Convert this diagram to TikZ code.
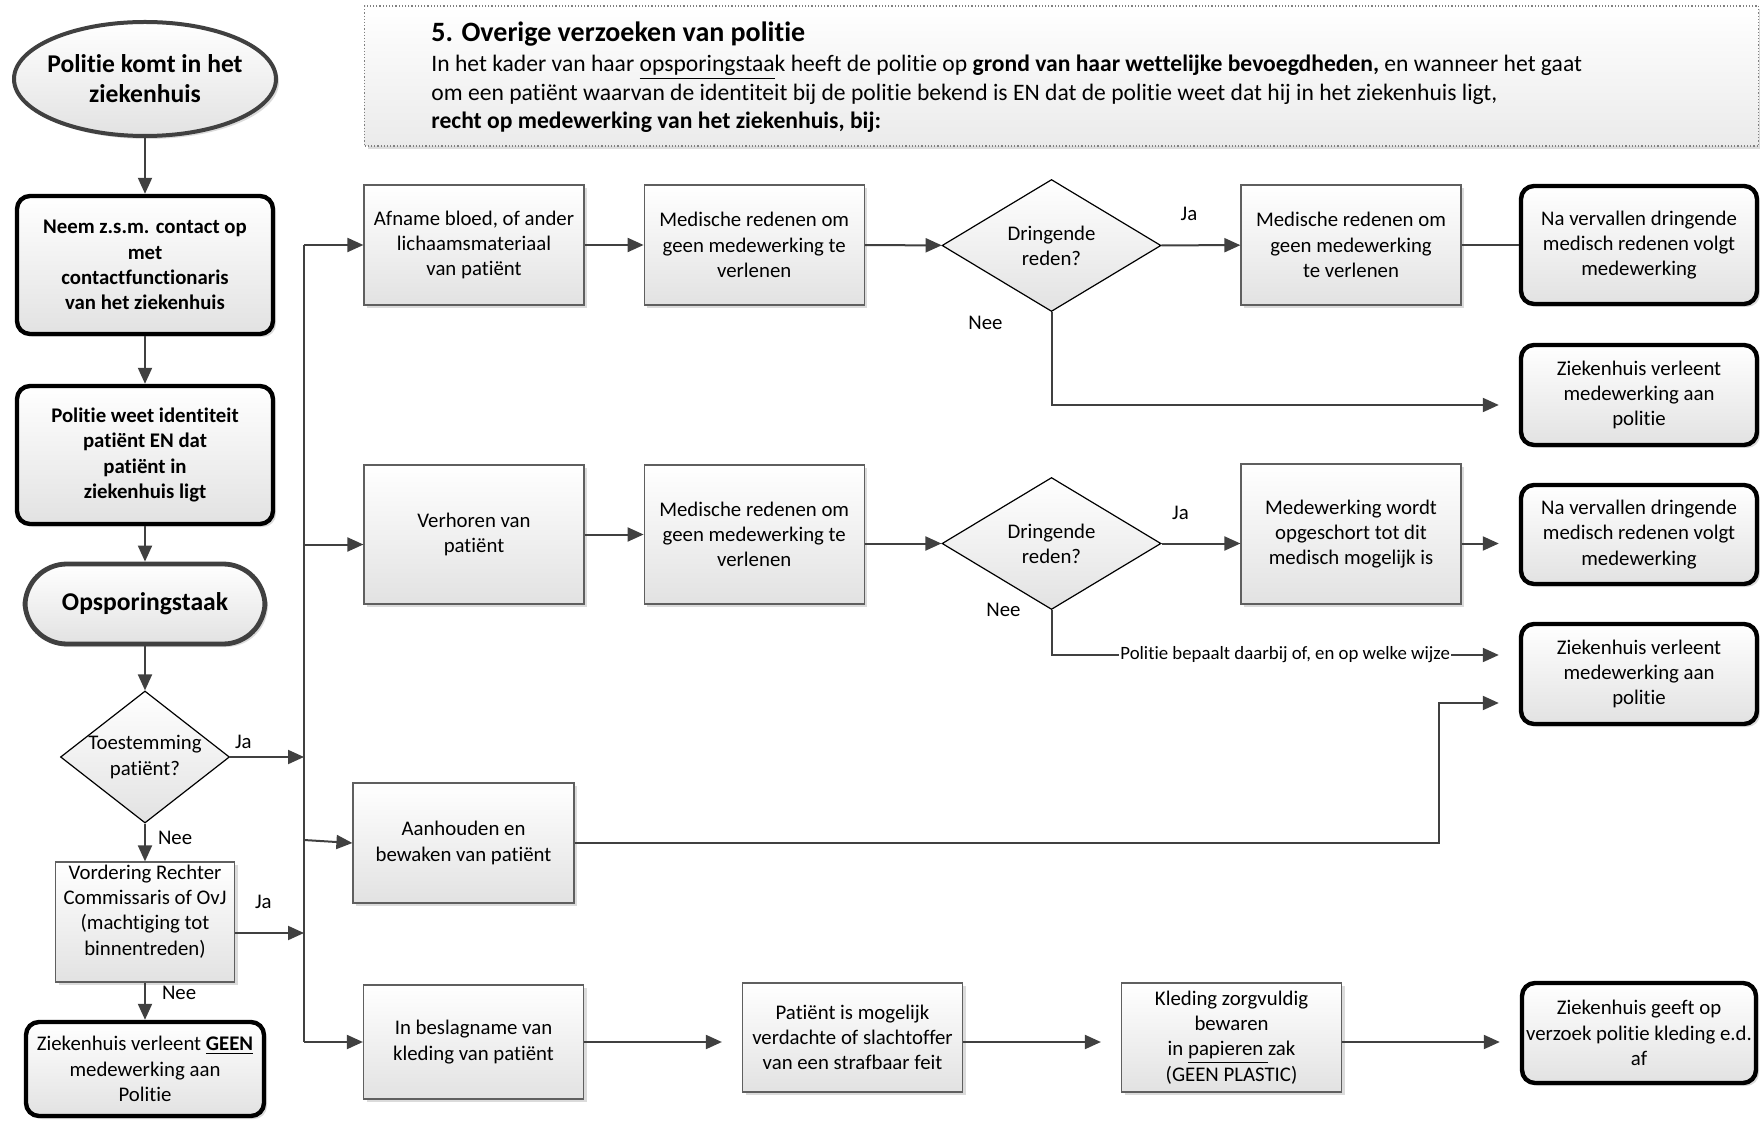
\documentclass[tikz,border=0pt]{standalone}
\usepackage{fontspec}
\setmainfont{Carlito}[Ligatures=NoCommon]
\usetikzlibrary{positioning, calc, shapes.geometric, arrows.meta, shadows}

\definecolor{linegray}{RGB}{64,64,64}
\definecolor{framegray}{RGB}{95,95,95}
\definecolor{boxgray}{RGB}{226,226,226}

\begin{document}
\begin{tikzpicture}[
        x=0.5pt, y=-0.5pt,
        node distance = 29.5pt and 29.5pt,
        txt/.style = {font=\fontsize{10.4}{12.6}\selectfont},
        shadowed/.style = {drop shadow={shadow xshift=1.5pt, shadow yshift=-1.5pt,
                    fill=black!40, opacity=0.35}},
        box/.style = {rectangle, draw=framegray, line width=0.6pt,
                    top color=white, bottom color=boxgray, shadowed,
                    align=center, inner sep=2pt, txt,
                    minimum width=110pt, minimum height=#1},
        box/.default = 60pt,
        endbox/.style = {rectangle, rounded corners=6.5pt, draw=black, line width=2.2pt,
                    top color=white, bottom color=boxgray, shadowed,
                    align=center, inner sep=1.5pt, txt,
                    minimum width=118pt, minimum height=50pt},
        leftbox/.style = {endbox, minimum width=128pt, minimum height=69pt,
                    font=\bfseries\fontsize{10.4}{12.6}\selectfont},
        startnode/.style = {ellipse, draw=linegray, line width=2pt,
                    top color=white, bottom color=boxgray, shadowed,
                    minimum width=131pt, minimum height=57pt, inner sep=-10pt,
                    align=center, font=\bfseries\fontsize{12.8}{15}\selectfont},
        stadium/.style = {rectangle, rounded corners=21pt, draw=linegray, line width=2.4pt,
                    top color=white, bottom color=boxgray, shadowed,
                    minimum width=120pt, minimum height=40pt,
                    font=\bfseries\fontsize{12.8}{15}\selectfont},
        decision/.style = {diamond, draw=black, line width=0.6pt, aspect=1.3,
                    top color=white, bottom color=boxgray, inner sep=-6pt,
                    minimum width=#1, minimum height=66pt, align=center, txt},
        header/.style = {rectangle, draw=gray, densely dotted, line width=0.6pt,
                    top color=white, bottom color=boxgray!70, shadowed,
                    minimum width=697pt, minimum height=70pt},
        lbl/.style = {txt, inner sep=2pt},
        note/.style = {font=\fontsize{9.4}{11}\selectfont, fill=white, inner sep=0.5pt},
        line/.style = {draw=linegray, line width=1pt},
        arrow/.style = {line, -{Triangle[length=8pt, width=7pt]}},
        gap/.style = {arrow, shorten >=10pt}
                    ]
        \useasboundingbox (0,0) rectangle (1760,1122);
        % kop
        \node (kader) [header] at (1061.5,76) {};
        \node (titel) [anchor=west, inner sep=0pt,
                font=\bfseries\fontsize{14}{16}\selectfont] at (431,34)
                {5. Overige verzoeken van politie};
        \node (uitleg) [anchor=west, inner sep=0pt, align=left,
                font=\fontsize{11.8}{14.2}\selectfont] at (431,94)
                {In het kader van haar \underline{opsporingstaa}k heeft de politie op \textbf{grond van haar wettelijke bevoegdheden,} en wanneer het gaat\\
                 om een patiënt waarvan de identiteit bij de politie bekend is EN dat de politie weet dat hij in het ziekenhuis ligt,\\
                 \textbf{recht op medewerking van het ziekenhuis, bij:}};
        % linker kolom
        \node (start) [startnode] at (145,79) {Politie komt in het\\ziekenhuis};
        \node (contact) [leftbox] at (145,265)
                {Neem z.s.m. contact op\\met\\contactfunctionaris\\van het ziekenhuis};
        \node (weet) [leftbox] at (145,455)
                {Politie weet identiteit\\patiënt EN dat\\patiënt in\\ziekenhuis ligt};
        \node (taak) [stadium] at (145,604) {Opsporingstaak};
        \node (toest) [decision=84.5pt] at (145,757) {Toestemming\\patiënt?};
        \node (vord) [box, minimum width=89.5pt, inner ysep=0pt, text depth=12pt] at (145,922)
                {Vordering Rechter\\Commissaris of OvJ\\(machtiging tot\\binnentreden)};
        \node (geen) [endbox, minimum width=119pt, minimum height=47pt] at (145,1069)
                {Ziekenhuis verleent \underline{\textbf{GEEN}}\\medewerking aan\\Politie};
        % rij 1
        \node (afname) [box] at (474,245) {Afname bloed, of ander\\lichaamsmateriaal\\van patiënt};
        \node (med1) [box, right=29.5pt of afname] {Medische redenen om\\geen medewerking te\\verlenen};
        \node (dring1) [decision=109.5pt] at (1051.5,245.5) {Dringende\\reden?};
        \node (med2) [box] at (1351,245) {Medische redenen om\\geen medewerking\\te verlenen};
        \node (navv1) [endbox, minimum height=59pt] at (1639,245)
                {Na vervallen dringende\\medisch redenen volgt\\medewerking};
        \node (zkh1) [endbox] at (1639,395) {Ziekenhuis verleent\\medewerking aan\\politie};
        % rij 2
        \node (verhoren) [box=69.5pt] at (474,534.5) {Verhoren van\\patiënt};
        \node (med3) [box=69.5pt, right=29.5pt of verhoren] {Medische redenen om\\geen medewerking te\\verlenen};
        \node (dring2) [decision=109.5pt] at (1051.5,543.5) {Dringende\\reden?};
        \node (opschort) [box=70pt] at (1351,534) {Medewerking wordt\\opgeschort tot dit\\medisch mogelijk is};
        \node (navv2) [endbox, minimum height=49.5pt] at (1639,534.5)
                {Na vervallen dringende\\medisch redenen volgt\\medewerking};
        \node (zkh2) [endbox] at (1639,674) {Ziekenhuis verleent\\medewerking aan\\politie};
        % rij 3
        \node (aanh) [box, minimum width=110.5pt] at (463.5,843) {Aanhouden en\\bewaken van patiënt};
        % rij 4
        \node (beslag) [box=57pt] at (473.5,1042) {In beslagname van\\kleding van patiënt};
        \node (verdacht) [box=54.5pt] at (852.5,1037.5) {Patiënt is mogelijk\\verdachte of slachtoffer\\van een strafbaar feit};
        \node (kleding) [box=54.5pt] at (1231.5,1037.5)
                {Kleding zorgvuldig\\bewaren\\in \underline{papieren }zak\\(GEEN PLASTIC)};
        \node (geeft) [endbox, minimum width=117pt] at (1639,1033)
                {Ziekenhuis geeft op\\verzoek politie kleding e.d.\\af};
        %
        \coordinate (trunk) at (304,245);
        \coordinate (uit) at ($(vord.east)+(0,11)$);
        \coordinate (knik) at (1439,843);
        %
        \draw[arrow] (start) -- (contact);
        \draw[arrow] (contact) -- (weet);
        \draw[arrow] (weet) -- (taak);
        \draw[arrow] (taak) -- (toest);
        \draw[arrow] (toest) -- node[lbl, right=4pt, pos=0.375] (nee1) {Nee} (vord);
        \draw[arrow] (vord) -- node[lbl, right=6pt, pos=0.29] (nee2) {Nee} (geen);
        \draw[arrow] (toest.east) -- node[lbl, above=1.5pt, pos=0.18] (ja1) {Ja} (toest.east -| trunk);
        \draw[arrow] (uit) -- node[lbl, above=9.5pt, pos=0.41] (ja2) {Ja} (uit -| trunk);
        %
        \draw[line] (trunk) -- (trunk |- beslag.west);
        \draw[arrow] (trunk) -- (afname.west);
        \draw[arrow] ($(verhoren.west -| trunk)+(0,10)$) -- ($(verhoren.west)+(0,10)$);
        \draw[arrow] ($(aanh.west -| trunk)+(0,-3)$) -- (aanh.west);
        \draw[arrow] (trunk |- beslag.west) -- (beslag.west);
        %
        \draw[arrow] (afname) -- (med1);
        \draw[arrow] (med1) -- (dring1);
        \draw[arrow] (dring1) -- node[lbl, above=10pt, pos=0.35] (ja3) {Ja} (med2);
        \draw[line] (med2) -- (navv1);
        \draw[gap] (dring1.south) |- node[lbl, pos=0.06, left=22pt] (nee3) {Nee}
                ($(zkh1.west)+(0,10)$);
        %
        \draw[arrow] (verhoren) -- (med3);
        \draw[arrow] (dring2.west -| med3.east) -- (dring2.west);
        \draw[arrow] (dring2.east) -- node[lbl, above=9.5pt, pos=0.24] (ja4) {Ja} (dring2.east -| opschort.west);
        \draw[gap] (dring2.east -| opschort.east) -- (dring2.east -| navv2.west);
        \draw[gap] (dring2.south) |- node[lbl, pos=0, left=13pt] (nee4) {Nee}
                node[note, pos=0.75] (wijze) {Politie bepaalt daarbij of, en op welke wijze}
                ($(zkh2.west)+(0,-19)$);
        \draw[gap] (aanh.east) -- (knik) |- ($(zkh2.west)+(0,29)$);
        %
        \draw[gap] (beslag.east) -- (beslag.east -| verdacht.west);
        \draw[gap] (beslag.east -| verdacht.east) -- (beslag.east -| kleding.west);
        \draw[gap] (beslag.east -| kleding.east) -- (beslag.east -| geeft.west);
    \end{tikzpicture}
\end{document}
